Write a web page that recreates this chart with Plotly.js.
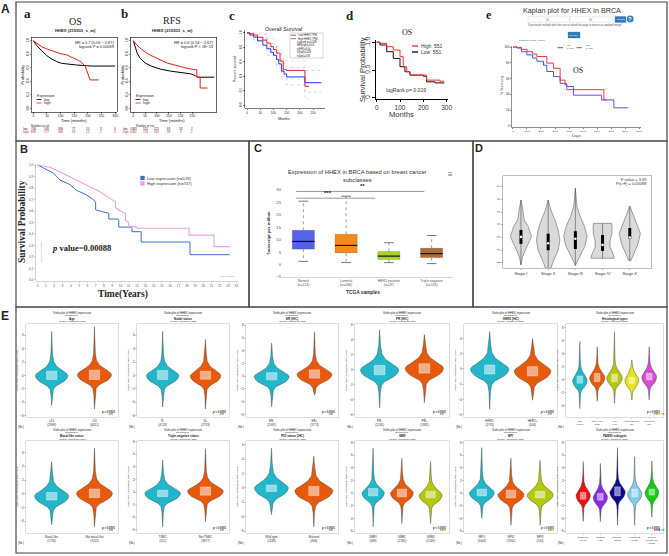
<!DOCTYPE html>
<html><head><meta charset="utf-8">
<script src="https://cdn.plot.ly/plotly-3.0.1.min.js"></script>
<style>html,body{margin:0;padding:0;background:#fff}#chart{width:669px;height:556px}</style>
</head><body><div id="chart"></div>
<script>
// ================= DATA =================
// A-a  KM plotter OS (months, probability)
const aLowT  = [0,12,31,49,67,86,104,122,159,196,214,300];
const aLowS  = [1,0.93,0.85,0.78,0.73,0.69,0.665,0.655,0.64,0.63,0.625,0.625];
const aHighT = [0,12,31,49,73,98,122,147,165,178,190,196,202,208,239];
const aHighS = [1,0.96,0.91,0.88,0.84,0.81,0.79,0.75,0.71,0.68,0.62,0.56,0.48,0.42,0.42];
const aTimeTicks = [0,50,100,150,200,250,300];
const aRiskLow  = ["704","505","309","77","10","3","0"];
const aRiskHigh = ["698","577","348","93","13","2","0"];
// A-b  KM plotter RFS
const bLowT  = [0,7,17,29,50,79,114,157,200,243,264,271,343];
const bLowS  = [1,0.91,0.81,0.74,0.67,0.62,0.58,0.55,0.53,0.51,0.48,0.46,0.46];
const bHighT = [0,14,36,64,100,143,186,229,264,269,269,281,283,283,314];
const bHighS = [1,0.94,0.87,0.8,0.74,0.67,0.63,0.59,0.57,0.57,0.46,0.46,0.46,0.3,0.3];
const bTimeTicks = [0,50,100,150,200,250];
const bRiskLow  = ["1083","551","221","65","18","2"];
const bRiskHigh = ["1082","723","363","98","9","1"];
const probTicks = [0,0.2,0.4,0.6,0.8,1];
const probLabels = ["0.0","0.2","0.4","0.6","0.8","1.0"];
// A-c  GEPIA overall survival
const cLowT  = [0,10,25,40,60,75,90,100,112,120,131,140,150,219,281];
const cLowS  = [1,0.97,0.94,0.89,0.83,0.78,0.73,0.69,0.63,0.57,0.47,0.43,0.39,0.31,0.31];
const cHighT = [0,10,25,40,60,75,90,100,112,125,137,150,219,235];
const cHighS = [1,0.99,0.97,0.94,0.9,0.86,0.81,0.77,0.72,0.61,0.49,0.48,0.26,0.26];
const cCiT   = [0,25,75,112,131,150,219,281];
const cLowUp = [1,0.98,0.85,0.72,0.58,0.52,0.48,0.48];
const cLowDn = [1,0.9,0.69,0.54,0.37,0.28,0.18,0.18];
const cHiCiT = [0,25,75,112,125,137,150,219,235];
const cHiUp  = [1,1,0.92,0.81,0.71,0.62,0.61,0.46,0.46];
const cHiDn  = [1,0.94,0.8,0.64,0.52,0.4,0.36,0.08,0.08];
const cMonthTicks = [0,50,100,150,200,250];
const cLegend = ["Low HHEX TPM","High HHEX TPM","Logrank p=0.038","HR(high)=0.63","p(HR)=0.04","n(high)=538","n(low)=538"];
// A-d  OS
const dHighT = [0,14,43,71,100,114,129,143,200,214,271,290];
const dHighS = [1,0.98,0.92,0.86,0.74,0.56,0.47,0.41,0.41,0.32,0.3,0.3];
const dLowT  = [0,14,43,71,100,121,143,200,214,250,290];
const dLowS  = [1,0.95,0.83,0.71,0.56,0.47,0.41,0.39,0.29,0.27,0.27];
// A-e  Kaplan plot (days, % surviving)
const eLowDays  = [0,284,600,995,1400,1706,2180,2417,2891,3365,3839,4313,6328,7205,8224];
const eLowPct   = [100,98.7,94,90,86,82,77,69,62.5,54,50,39,33,23,23];
const eHighDays = [0,284,600,995,1400,1706,2417,2891,3365,3720,3839,6494,6683];
const eHighPct  = [100,99.6,97,94.5,91,88,79.6,73,58,52,46,33,33];
// B  survival (years)
const BHighT = [0,1.5,2.7,3.9,5.1,6.3,7.5,8.7,9.4,9.4,10.0,10.6,10.6,11.0,11.0,12.0,12.0,18.3,18.3,21.3,21.3,23.2];
const BHighS = [1,0.98,0.94,0.9,0.855,0.81,0.77,0.71,0.68,0.63,0.6,0.58,0.52,0.5,0.47,0.46,0.45,0.45,0.39,0.39,0.29,0.29];
const BLowT  = [0,1.1,1.9,2.7,3.9,4.7,5.9,6.7,7.0,7.0,8.3,8.6,8.6,9.7,9.8,9.8,11.3,11.4,11.4,12.5,12.5,18.4,18.4,23.2];
const BLowS  = [1,0.96,0.93,0.87,0.83,0.78,0.74,0.7,0.68,0.61,0.59,0.58,0.53,0.53,0.52,0.46,0.46,0.45,0.42,0.42,0.33,0.33,0.22,0.22];
// C  UALCAN box plot (TPM)
const CCats = ["Normal<br>(n=114)","Luminal<br>(n=566)","HER2 positive<br>(n=37)","Triple negative<br>(n=116)"];
const CQ1  = [6.2,4.7,2.0,2.8];
const CMed = [9.3,7.7,3.4,4.4];
const CQ3  = [13.8,12.2,5.3,6.6];
const CLo  = [1.3,0.8,0.8,0.4];
const CHi  = [25.5,27.5,8.8,11.7];
const CColors = ["#5563e6","#f28a1c","#a8d42a","#b06a34"];
const CSigY = [26.7,29.4], CSigX0 = [-0.17,-0.17], CSigX1 = [1.68,2.83], CSigLab = ["***","**"], CSigLabX = [0.58,1.38];
// D  violin by stage
const DStages = ["Stage I","Stage II","Stage III","Stage IV","Stage X"];
const DLevels = [
 [0.84,1.5,2.28,3.07,3.86,4.39,5.17,5.96],
 [0.58,0.9,1.2,2.0,2.8,3.6,4.39,5.17,5.96],
 [0.8,1.5,2.28,3.07,3.86,4.65,5.44,6.88],
 [1.37,1.5,1.8,2.3,2.8,3.3,3.8,4.12],
 [1.18,1.76,2.54,3.33,4.12,4.91,5.49]];
const DWidths = [
 [0,0.06,0.22,0.39,0.27,0.12,0.07,0],
 [0.1,0.15,0.2,0.37,0.43,0.37,0.25,0.1,0],
 [0,0.15,0.34,0.43,0.34,0.18,0.06,0],
 [0.42,0.42,0.37,0.27,0.28,0.34,0.35,0.33],
 [0.04,0.15,0.31,0.39,0.25,0.1,0]];
const DQ1 = [2.5,2.0,2.1,1.95,2.9], DQ3 = [3.6,3.3,3.5,3.2,3.75], DMed = [3.05,2.55,2.9,2.42,3.0];
// E  bc-GenExMiner violins
const EGroups = ["Age","Nodal status","ER (IHC)","PR (IHC)","HER2 (IHC)","Histological types","Basal-like status","Triple-negative status","P53 status (IHC)","SBR","NPI","PAM50 subtypes"];
const ECats = [["≤51",">51"],["N-","N+"],["ER-","ER+"],["PR-","PR+"],["HER2-","HER2+"],
 ["IDC","IDC & ILC","ILC","Micropapillary","Mucinous"],["Basal-like","Not basal-like"],["TNBC","Not TNBC"],
 ["Wild type","Mutated"],["SBR1","SBR2","SBR3"],["NPI1","NPI2","NPI3"],
 ["Basal-like","HER2-E","Luminal A","Luminal B","Normal<br>breast-like"]];
const ENs = [["(2989)","(4051)"],["(4128)","(2733)"],["(2091)","(5773)"],["(1245)","(1982)"],["(1781)","(444)"],
 ["(1903)","(123)","(446)","(29)","(81)"],["(1730)","(7022)"],["(512)","(3977)"],["(1148)","(496)"],
 ["(689)","(2186)","(2149)"],["(1044)","(1950)","(532)"],["(1747)","(926)","(2638)","(1726)","(1015)"]];
const ECenter = [[0,0.15],[0,0],[-0.05,0.3],[0,0.2],[0,-0.26],[0,0.4,0.4,0,0.5],[-0.3,0.1],[-0.2,0.15],[0,-0.4],[0.05,0.05,-0.3],[0.1,-0.2,-0.2],[-0.3,-0.6,0.2,-0.05,0.2]];
const ELow = [[-4.5,-5.0],[-4.7,-5.0],[-4.8,-3.0],[-5.1,-4.4],[-5.3,-4.1],[-4.4,-3.3,-3.6,-3.1,-3.1],[-4.5,-4.8],[-5.5,-4.7],[-3.7,-5.4],[-5.3,-4.8,-4.8],[-4.0,-5.1,-5.1],[-4.5,-4.5,-5.1,-5.1,-3.8]];
const EHigh = [[6.6,7.3],[6.6,5.4],[5.2,7.0],[5.3,4.7],[4.9,4.0],[5.9,5.1,7.4,3.1,5.1],[4.7,6.7],[5.1,6.9],[5.5,4.4],[7.1,5.5,5.0],[7.2,5.5,5.2],[5.0,4.7,7.2,5.8,5.1]];
const EWidth = [[0.38,0.4],[0.38,0.36],[0.41,0.41],[0.43,0.43],[0.45,0.43],[0.42,0.44,0.45,0.4,0.43],[0.4,0.42],[0.42,0.42],[0.4,0.45],[0.39,0.4,0.4],[0.43,0.45,0.45],[0.42,0.42,0.45,0.42,0.4]];
const EQ1 = [[-0.59,-0.6],[-0.6,-0.55],[-0.56,-0.3],[-0.67,-0.44],[-0.66,-0.9],[-0.5,-0.26,-0.26,-0.6,0],[-0.9,-0.54],[-0.74,-0.5],[-0.5,-1.07],[-0.42,-0.58,-0.74],[-0.42,-0.74,-0.74],[-0.95,-1.1,-0.42,-0.58,-0.3]];
const EQ3 = [[0.64,0.8],[0.75,0.64],[0.56,1.0],[0.58,0.8],[0.53,0.3],[0.6,1.0,0.9,0.36,1.0],[0.2,0.7],[0.3,0.8],[0.4,0.2],[0.74,0.63,0.3],[0.63,0.48,0.3],[0.1,-0.05,1.0,0.63,0.63]];
const EP = ["p < 0.0001","p < 0.0001","p < 0.0001","p < 0.0001","p < 0.0001","p < 0.0001","p < 0.0001","p < 0.0001","p < 0.0001","p < 0.0001","p < 0.0001","p < 0.0001"];
const CYAN = "#21b6ca", ORANGE = "#e8590c", YGREEN = "#b5c80a", YELLOW = "#e6e21a", MAGENTA = "#d44fd0",
      RED = "#ee1111", PURPLE = "#8a2be2", NAVY = "#0b0b8b", LBLUE = "#82cbee", GREEN = "#14cc14";
const EColors = [[CYAN,ORANGE],[CYAN,ORANGE],[CYAN,ORANGE],[CYAN,ORANGE],[CYAN,ORANGE],[CYAN,ORANGE,YGREEN,YELLOW,MAGENTA],
 [CYAN,ORANGE],[CYAN,ORANGE],[CYAN,ORANGE],[CYAN,ORANGE,YGREEN],[CYAN,ORANGE,YGREEN],[RED,PURPLE,NAVY,LBLUE,GREEN]];
// shared violin outline profile (offset from widest point, relative half-width)
const vProfOff = [-3.0,-2.1,-1.6,-1.3,-0.85,-0.4,0,0.3,0.65,1.0,1.4,2.1,3.2];
const vProfW   = [0.04,0.1,0.25,0.48,0.78,0.95,1.0,0.92,0.7,0.5,0.3,0.12,0.05];

// ================= DRAWING =================
const W = 669, H = 556;
const SANS = 'Liberation Sans, Arial, sans-serif';
const SERIF = 'Liberation Serif, Times New Roman, serif';
const px = x => x / W, py = y => 1 - y / H;
const dX = (a, b) => [px(a), px(b)];
const dY = (t, b) => [py(b), py(t)];
const traces = [];
const layout = {width: W, height: H, margin: {l:0, r:0, t:0, b:0}, paper_bgcolor: '#fff', plot_bgcolor: 'rgba(0,0,0,0)',
  showlegend: false, shapes: [], annotations: [], font: {family: SANS, size: 5, color: '#222'}};
const sfx = n => n === 1 ? '' : String(n);
function addAxes(n, xd, yd, xo, yo) {
  const base = {showgrid:false, zeroline:false, fixedrange:true, showline:true, linecolor:'#000', linewidth:0.6,
    ticks:'outside', ticklen:2, tickwidth:0.5, tickcolor:'#000', tickfont:{size:4, color:'#222', family:SANS}, automargin:false};
  layout['xaxis' + sfx(n)] = Object.assign({}, base, {domain: xd, anchor: 'y' + sfx(n)}, xo);
  layout['yaxis' + sfx(n)] = Object.assign({}, base, {domain: yd, anchor: 'x' + sfx(n)}, yo);
}
function line(n, x, y, color, width, extra) {
  traces.push(Object.assign({type:'scatter', mode:'lines', x, y, xaxis:'x' + sfx(n), yaxis:'y' + sfx(n),
    line:{color, width}, hoverinfo:'skip'}, extra || {}));
}
function ann(x, y, text, size, o) {
  o = o || {};
  layout.annotations.push({xref: o.xref || 'paper', yref: 'paper', x: o.xref ? x : px(x), y: py(y), text, showarrow:false,
    textangle: o.angle || 0, xanchor: o.xa || 'center', yanchor: 'middle', borderpad: 0,
    font: {size, color: o.color || '#222', family: o.family || SANS}});
}
function pline(x0, y0, x1, y1, color, w, dash) {
  layout.shapes.push({type:'line', xref:'paper', yref:'paper', x0:px(x0), y0:py(y0), x1:px(x1), y1:py(y1), line:{color, width:w, dash:dash||'solid'}});
}
function prect(x0, y0, x1, y1, color, w, fill) {
  layout.shapes.push({type:'rect', xref:'paper', yref:'paper', x0:px(x0), y0:py(y0), x1:px(x1), y1:py(y1), line:{color, width:w}, fillcolor: fill || 'rgba(0,0,0,0)'});
}

// ---- panel frames and letters
prect(16, 2, 667, 141, '#444', 1.2);
prect(16, 141, 249, 307, '#444', 1.2);
prect(249, 141, 473, 307, '#444', 1.2);
prect(473, 141, 667, 307, '#444', 1.2);
prect(16, 307, 667, 553, '#444', 1.2);
ann(5, 9, '<b>A</b>', 12);
ann(24, 149, '<b>B</b>', 11);
ann(258, 148, '<b>C</b>', 11);
ann(479, 148, '<b>D</b>', 11);
ann(5, 316, '<b>E</b>', 12);

// ---- A-a
addAxes(1, dX(31.7, 116.7), dY(37.3, 111.7),
  {range:[-6,306], tickvals:aTimeTicks, ticklen:1.2, tickfont:{size:3.3}, mirror:true},
  {range:[-0.05,1.05], tickvals:probTicks, ticktext:probLabels, tickangle:-90, ticklen:1.2, tickfont:{size:3.3}, mirror:true});
line(1, aLowT, aLowS, '#000', 1);
line(1, aHighT, aHighS, '#e41a1c', 1);
ann(27, 14, '<b>a</b>', 13, {family:SERIF});
ann(75, 22, 'OS', 10, {family:SERIF});
ann(75, 31, '<b>HHEX (215933_s_at)</b>', 4.2);
ann(114.5, 42.5, 'HR = 0.7 (0.56 − 0.87)', 3.9, {xa:'right'});
ann(114.5, 46.5, 'logrank P = 0.00089', 3.9, {xa:'right'});
ann(36, 96, 'Expression', 3.6, {xa:'left'});
pline(36.5, 99.5, 41.5, 99.5, '#000', 0.8); ann(43, 99.5, 'low', 3.6, {xa:'left'});
pline(36.5, 103, 41.5, 103, '#e41a1c', 0.8); ann(43, 103, 'high', 3.6, {xa:'left'});
ann(21.5, 75, 'Probability', 4.2, {angle:-90});
ann(74, 121, 'Time (months)', 4);
ann(40, 126, 'Number at risk', 2.8);
ann(22, 129, 'low', 3, {xa:'left'});
ann(22, 132.5, 'high', 3, {xa:'left', color:'#e41a1c'});
aTimeTicks.forEach((t, i) => {
  ann(t, 129, aRiskLow[i], 3, {xref:'x'});
  ann(t, 132.5, aRiskHigh[i], 3, {xref:'x', color:'#e41a1c'});
});

// ---- A-b
addAxes(2, dX(131, 216), dY(37.3, 111.7),
  {range:[-9.7,350], tickvals:bTimeTicks, ticklen:1.2, tickfont:{size:3.3}, mirror:true},
  {range:[-0.05,1.05], tickvals:probTicks, ticktext:probLabels, tickangle:-90, ticklen:1.2, tickfont:{size:3.3}, mirror:true});
line(2, bLowT, bLowS, '#000', 1);
line(2, bHighT, bHighS, '#e41a1c', 1);
ann(124, 14, '<b>b</b>', 13, {family:SERIF});
ann(172, 21, 'RFS', 10, {family:SERIF});
ann(172, 31, '<b>HHEX (215933_s_at)</b>', 4.2);
ann(214, 42.5, 'HR = 0.6 (0.54 − 0.67)', 3.9, {xa:'right'});
ann(214, 46.5, 'logrank P < 1E−16', 3.9, {xa:'right'});
ann(135, 96, 'Expression', 3.6, {xa:'left'});
pline(135.5, 99.5, 140.5, 99.5, '#000', 0.8); ann(142, 99.5, 'low', 3.6, {xa:'left'});
pline(135.5, 103, 140.5, 103, '#e41a1c', 0.8); ann(142, 103, 'high', 3.6, {xa:'left'});
ann(121.5, 75, 'Probability', 4.2, {angle:-90});
ann(172, 121, 'Time (months)', 4);
ann(145, 126, 'Number at risk', 2.8);
ann(122, 129, 'low', 3, {xa:'left'});
ann(122, 132.5, 'high', 3, {xa:'left', color:'#e41a1c'});
bTimeTicks.forEach((t, i) => {
  ann(t, 129, bRiskLow[i], 3, {xref:'x2'});
  ann(t, 132.5, bRiskHigh[i], 3, {xref:'x2', color:'#e41a1c'});
});

// ---- A-c
addAxes(3, dX(245, 325), dY(30, 108),
  {range:[-7.6,295], tickvals:cMonthTicks, ticklen:1.5, tickfont:{size:3.1}, linewidth:0.5},
  {range:[-0.04,1.04], tickvals:probTicks, ticktext:probLabels, tickangle:-90, ticklen:1.5, tickfont:{size:3.1}, linewidth:0.5});
line(3, cCiT, cLowUp, '#bbb', 0.6, {line:{color:'#bbb', width:0.6, dash:'dot', shape:'hv'}});
line(3, cCiT, cLowDn, '#bbb', 0.6, {line:{color:'#bbb', width:0.6, dash:'dot', shape:'hv'}});
line(3, cHiCiT, cHiUp, '#ccc', 0.6, {line:{color:'#ccc', width:0.6, dash:'dot', shape:'hv'}});
line(3, cHiCiT, cHiDn, '#ccc', 0.6, {line:{color:'#ccc', width:0.6, dash:'dot', shape:'hv'}});
line(3, cLowT, cLowS, '#2233ee', 1, {line:{color:'#2233ee', width:1, shape:'hv'}});
line(3, cHighT, cHighS, '#ee2222', 1, {line:{color:'#ee2222', width:1, shape:'hv'}});
ann(232, 15, '<b>c</b>', 13, {family:SERIF});
ann(283, 28.5, 'Overall Survival', 5.3);
ann(235, 69, 'Percent survival', 3.6, {angle:-90});
ann(284, 118.5, 'Months', 3.6);
prect(290, 33, 323, 58, '#999', 0.4);
pline(291, 35.2, 296, 35.2, '#2233ee', 0.8);
pline(291, 38.7, 296, 38.7, '#ee2222', 0.8);
cLegend.forEach((t, i) => ann(i < 2 ? 297 : 296, 35.2 + i * 3.4, t, 2.6, {xa:'left'}));

// ---- A-d
addAxes(4, dX(376, 448), dY(40, 98.5),
  {range:[-3,306], tickvals:[0,100,200,300], ticklen:2.5, tickwidth:1, linewidth:1.2, tickfont:{size:6.5, color:'#333'}},
  {range:[-0.01,1.04], tickvals:[0,0.5,1], ticktext:['0','0.5','1.0'], tickangle:-90, ticklen:2.5, tickwidth:1, linewidth:1.2, tickfont:{size:6.5, color:'#333'}});
line(4, dLowT, dLowS, '#111', 1, {line:{color:'#111', width:1, shape:'hv'}});
line(4, dHighT, dHighS, '#ff2a2a', 1, {line:{color:'#ff2a2a', width:1, shape:'hv'}});
ann(350, 15, '<b>d</b>', 13, {family:SERIF});
ann(407, 33, 'OS', 8, {family:SERIF});
ann(362, 70, 'Survival Probability', 7.6, {angle:-90, color:'#333'});
ann(401, 114, 'Months', 7.6, {color:'#333'});
pline(412, 46, 418, 46, '#ff2a2a', 1.4); ann(420, 46, 'High  551', 5, {xa:'left', color:'#333'});
pline(412, 52, 418, 52, '#111', 1.4); ann(420, 52, 'Low  551', 5, {xa:'left', color:'#333'});
ann(406, 90, 'logRank p= 0.019', 5.1, {color:'#333'});

// ---- A-e
addAxes(5, dX(512, 641), dY(46, 127),
  {range:[-71,9143], dtick:1000, tick0:0, ticklen:1.5, tickfont:{size:2.5}, linecolor:'#444', linewidth:0.6},
  {range:[-1.3,101.3], tickvals:[0,20,40,60,80,100], ticklen:1.5, tickfont:{size:2.9}, linecolor:'#444', linewidth:0.6});
line(5, eLowDays, eLowPct, '#3344ee', 0.9, {line:{color:'#3344ee', width:0.9, shape:'hv'}});
line(5, eHighDays, eHighPct, '#ee2233', 0.9, {line:{color:'#ee2233', width:0.9, shape:'hv'}});
ann(489, 15, '<b>e</b>', 12, {family:SERIF});
ann(572, 11, 'Kaplan plot for HHEX in BRCA', 7.2, {color:'#333'});
prect(528, 16.8, 569.5, 22.2, '#ccc', 0.4, '#fff');
prect(570, 16.8, 613, 22.2, '#ccc', 0.4, '#fff');
ann(548, 19.5, '50', 2.8, {color:'#666'});
ann(591, 19.5, '50', 2.8, {color:'#666'});
prect(615, 16.5, 626, 22.5, '#2e6da4', 0.3, '#337ab7');
ann(620.5, 19.5, 'Submit', 2.4, {color:'#fff'});
layout.shapes.push({type:'circle', xref:'paper', yref:'paper', x0:px(626.8), x1:px(633.6), y0:py(22.3), y1:py(15.5), fillcolor:'#337ab7', line:{width:0}});
ann(630.2, 19, '<b>?</b>', 6, {color:'#fff'});
ann(575, 25, 'If you make multiple plots be sure to reload the page to ensure an updated image!', 2.6, {color:'#555'});
prect(568, 32, 580, 38, '#2e6da4', 0.3, '#337ab7');
ann(574, 35, 'Get PDF', 2.3, {color:'#fff'});
ann(518, 40, 'Logrank p-value=0.0346', 2.4, {xa:'left', color:'#444'});
pline(557.5, 47.7, 563, 47.7, '#3344ee', 0.9);
pline(576.5, 47.7, 582, 47.7, '#ee2233', 0.9);
ann(565.5, 44.5, 'low', 2.3, {xa:'left', color:'#444'});
ann(565.5, 48, 'N=551', 2.3, {xa:'left', color:'#444'});
ann(584.5, 44.5, 'high', 2.3, {xa:'left', color:'#444'});
ann(584.5, 48, 'N=551', 2.3, {xa:'left', color:'#444'});
ann(578, 70, 'OS', 8, {family:SERIF});
ann(502, 86, '% Surviving', 3.6, {angle:-90, color:'#444'});
ann(576, 135.5, 'Days', 3.8, {color:'#444'});

// ---- B
addAxes(6, dX(36, 238), dY(164, 281),
  {range:[-0.2,24.2], dtick:1, tick0:0, ticklen:1.5, tickfont:{size:3.2, color:'#555'}, linecolor:'#aaa', linewidth:0.5, tickcolor:'#aaa'},
  {range:[-0.009,1.009], dtick:0.1, tick0:0, tickformat:'.1f', ticklen:1.5, tickfont:{size:3.2, color:'#555'}, linecolor:'#aaa', linewidth:0.5, tickcolor:'#aaa'});
line(6, BLowT, BLowS, '#3b6fc6', 1);
line(6, BHighT, BHighS, '#e6a1e6', 1.1);
ann(22, 222, '<b>Survival Probability</b>', 9.5, {angle:-90, family:SERIF});
ann(123, 294, '<b>Time(Years)</b>', 9.5, {family:SERIF});
ann(81, 248, '<b><i>p</i> value=0.00088</b>', 8.5, {family:SERIF});
prect(140.5, 176, 144.5, 180, '#3b6fc6', 0.3, '#3b6fc6');
ann(146, 178, 'Low expression (n=528)', 4.1, {xa:'left', color:'#333'});
prect(140.5, 181.5, 144.5, 185.5, '#e6a1e6', 0.3, '#e6a1e6');
ann(146, 183.5, 'High expression (n=747)', 4.1, {xa:'left', color:'#333'});
ann(40.5, 252, 'Survival probability', 2.5, {angle:-90, color:'#888'});
ann(227, 276.5, 'Time (years)', 2.5, {color:'#888'});

// ---- C
addAxes(7, dX(282, 453), dY(188, 277),
  {range:[-0.5,3.5], tickvals:[0,1,2,3], ticktext:CCats, ticks:'', tickfont:{size:3.5, color:'#555'}, linecolor:'#bbb', linewidth:0.6},
  {range:[-5,30.8], dtick:5, tick0:0, ticks:'', showline:false, tickfont:{size:4.2, color:'#555'}});
traces.push({type:'bar', x:[0,1,2,3], y:CQ3.map((q, i) => q - CQ1[i]), base:CQ1, width:0.52, xaxis:'x7', yaxis:'y7',
  marker:{color:CColors, line:{color:'rgba(0,0,0,0.25)', width:0.5}}, hoverinfo:'skip'});
{
  const wx = [], wy = [], cx = [], cy = [], mx = [], my = [];
  CQ1.forEach((q1, i) => {
    wx.push(i, i, null, i, i, null); wy.push(CQ3[i], CHi[i], null, q1, CLo[i], null);
    cx.push(i - 0.115, i + 0.115, null, i - 0.115, i + 0.115, null); cy.push(CHi[i], CHi[i], null, CLo[i], CLo[i], null);
    mx.push(i - 0.26, i + 0.26, null); my.push(CMed[i], CMed[i], null);
  });
  line(7, wx, wy, '#777', 0.7, {line:{color:'#777', width:0.7, dash:'dot'}});
  line(7, cx, cy, '#555', 0.8);
  line(7, mx, my, '#111', 1.2);
  const sx = [], sy = [];
  CSigY.forEach((y, i) => { sx.push(CSigX0[i], CSigX1[i], null); sy.push(y, y, null); });
  line(7, sx, sy, '#555', 0.6);
  CSigY.forEach((y, i) => layout.annotations.push({xref:'x7', yref:'y7', x:CSigLabX[i], y:y, yanchor:'bottom', text:'<b>' + CSigLab[i] + '</b>', showarrow:false, font:{size:6, color:'#222'}}));
}
ann(358, 172.5, 'Expression of HHEX in BRCA based on breast cancer', 5.8, {color:'#333'});
ann(358, 179.5, 'subclasses', 5.8, {color:'#333'});
ann(450, 174, '≡', 8, {color:'#666'});
ann(268, 233, '<b>Transcript per million</b>', 4.3, {angle:-90, color:'#333'});
ann(363, 292.5, '<b>TCGA samples</b>', 4.8, {color:'#333'});

// ---- D
addAxes(8, dX(503, 651), dY(176, 268),
  {range:[-0.66,4.78], tickvals:[0,1,2,3,4], ticktext:DStages, ticklen:1.5, tickfont:{size:4.1, color:'#333'}, mirror:true, linecolor:'#777', linewidth:0.5, tickcolor:'#777'},
  {range:[0.6,7.85], tickvals:[1,2,3,4,5,6,7], tickangle:-90, ticklen:1.5, tickfont:{size:3.5, color:'#333'}, mirror:true, linecolor:'#777', linewidth:0.5, tickcolor:'#777'});
DLevels.forEach((lv, i) => {
  const w = DWidths[i];
  const xs = lv.map((_, k) => i + w[k]).concat(lv.slice().reverse().map((_, k) => i - w[w.length - 1 - k]));
  const ys = lv.concat(lv.slice().reverse());
  xs.push(xs[0]); ys.push(ys[0]);
  line(8, xs, ys, '#666', 0.6, {fill:'toself', fillcolor:'#dadada'});
  line(8, [i, i], [lv[0], lv[lv.length - 1]], '#333', 0.5);
  line(8, [i, i], [DQ1[i], DQ3[i]], '#000', 3);
  traces.push({type:'scatter', mode:'markers', x:[i], y:[DMed[i]], xaxis:'x8', yaxis:'y8', marker:{color:'#fff', size:2.6, line:{width:0}}, hoverinfo:'skip'});
});
ann(648, 179, 'F value = 3.39', 4, {xa:'right', color:'#333'});
ann(648, 183.5, 'Pr(&gt;F) = 0.00088', 4, {xa:'right', color:'#333'});

// ---- E
const EX = [[26,118],[137,229],[246,338],[355,449],[464,557],[566,663]];
const EY = [[324,417],[441,533]];
const EXR = [[-0.6,1.55],[-0.6,1.55],[-0.6,1.55],[-0.55,1.55],[-0.6,1.57],[-0.8,4.8],[-0.6,1.55],[-0.6,1.55],[-0.6,1.57],[-0.63,2.64],[-0.61,2.58],[-1.0,4.65]];
const EYR = [[-6.2,7.7],[-6.2,7.7],[-6.4,8.2],[-6.3,6.1],[-6.3,5.9],[-5.7,8.6],[-5.7,7.7],[-6.5,8.1],[-6.25,6.5],[-6.3,8.25],[-6.3,8.25],[-6.3,8.25]];
const ETitleY = [[312.6,315.6,318.7,321.8],[429.8,432.8,435.9,439]];
ECats.forEach((cats, p) => {
  const n = 9 + p, r = Math.floor(p / 6), c = p % 6;
  const [L, R] = EX[c], [T, B] = EY[r];
  const many = cats.length > 3;
  addAxes(n, dX(L, R), dY(T, B),
    {range:EXR[p], tickvals:cats.map((_, i) => i), ticktext:cats.map((s, i) => s + '<br>' + ENs[p][i]), ticklen:1.2, tickcolor:'#999',
     tickangle:0, tickfont:{size: many ? 2.5 : 3, color:'#333'}, mirror:true, linecolor:'#bbb', linewidth:0.5},
    {range:EYR[p], dtick:2, tick0:0, ticklen:1.2, tickcolor:'#999', tickfont:{size:3, color:'#333'}, mirror:true, linecolor:'#bbb', linewidth:0.5});
  const bw = cats.length === 2 ? 0.12 : 0.16;
  cats.forEach((_, i) => {
    const ctr = ECenter[p][i], lo = ELow[p][i], hi = EHigh[p][i], hw = EWidth[p][i];
    const ys = [lo], ws = [0];
    vProfOff.forEach((o, k) => { const y = ctr + o; if (y > lo && y < hi) { ys.push(y); ws.push(vProfW[k]); } });
    ys.push(hi); ws.push(0);
    const xs = ws.map(w => i + w * hw).concat(ws.slice().reverse().map(w => i - w * hw));
    const yy = ys.concat(ys.slice().reverse());
    line(n, xs, yy, '#2b3a3a', 0.4, {fill:'toself', fillcolor:EColors[p][i]});
    line(n, [i - bw, i + bw, i + bw, i - bw, i - bw], [EQ1[p][i], EQ1[p][i], EQ3[p][i], EQ3[p][i], EQ1[p][i]], 'rgba(255,255,255,0.75)', 0.5,
      {fill:'toself', fillcolor:'rgba(255,255,255,0.5)'});
  });
  const cx = (L + R) / 2, ty = ETitleY[r];
  ann(cx, ty[0], 'Violin plot of HHEX expression', 2.8);
  ann(cx, ty[1], 'according to', 2.4);
  ann(cx, ty[2], '<b>' + EGroups[p] + '</b>', 3);
  ann(cx, ty[3], '(all DNA microarray data)', 2.4);
  ann(L - 9, (T + B) / 2, 'HHEX log2 (normalized) mRNA level', 2.5, {angle:-90});
  ann(R - 2, B - 5.5, '<b>' + EP[p] + '</b>', 2.7, {xa:'right'});
  cats.forEach((_, i) => prect(R - 9 + i * 2.2, B - 3.8, R - 7.6 + i * 2.2, B - 2.4, EColors[p][i], 0.2, EColors[p][i]));
  ann(L - 1, B + 9.5, '(Nb.)', 2.6, {xa:'right'});
});

Plotly.newPlot('chart', traces, layout, {staticPlot:true, displayModeBar:false});
</script>
</body></html>
